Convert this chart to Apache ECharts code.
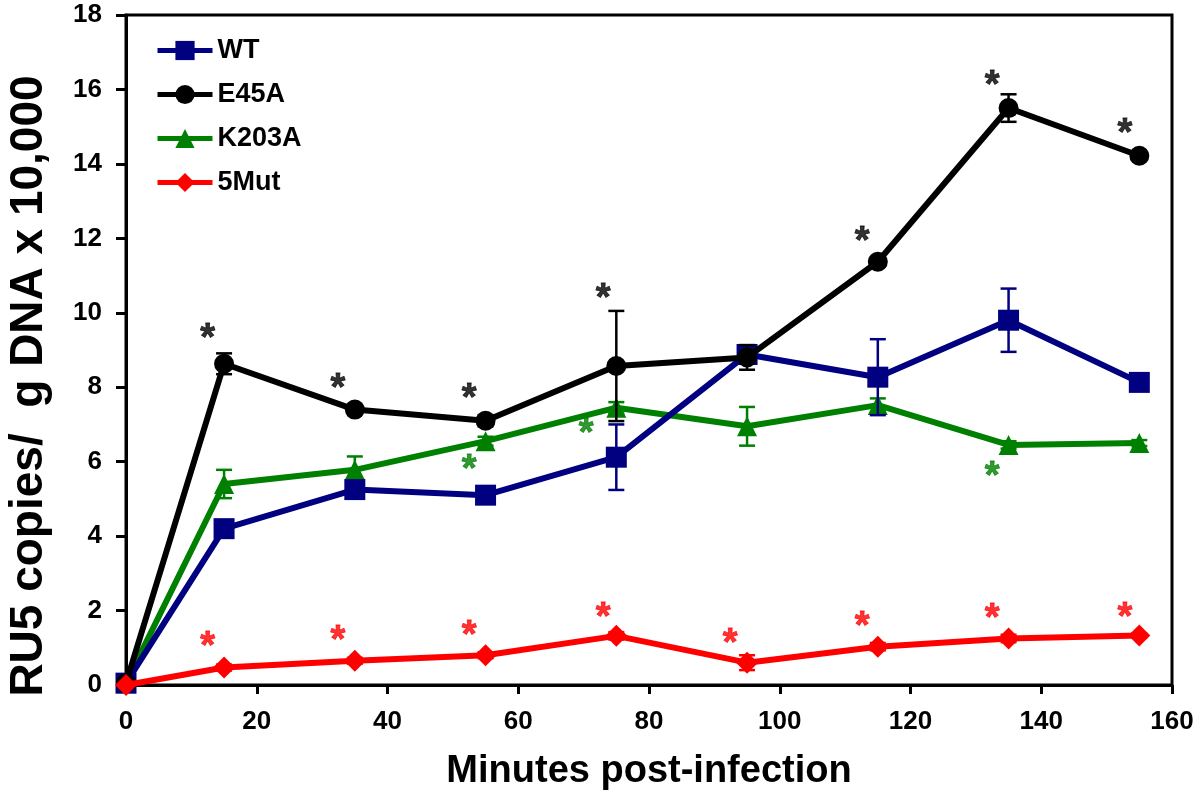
<!DOCTYPE html>
<html>
<head>
<meta charset="utf-8">
<script src="https://cdn.jsdelivr.net/npm/echarts@6/dist/echarts.min.js"></script>
<style>
html,body{margin:0;padding:0;background:#fff;}
#chart{width:1200px;height:797px;}
</style>
</head>
<body>
<div id="chart"></div>
<script>
// ---- data ----
const minutes = [0, 15, 35, 55, 75, 95, 115, 135, 155];
const wt      = [0.05, 4.2, 5.25, 5.1, 6.12, 8.88, 8.27, 9.8, 8.13];
const wtErr   = [0, 0.12, 0.15, 0.1, 0.88, 0.25, 1.02, 0.85, 0.1];
const e45a    = [0.05, 8.63, 7.4, 7.1, 8.57, 8.8, 11.37, 15.5, 14.22];
const e45aErr = [0, 0.28, 0.12, 0.15, 1.48, 0.33, 0.12, 0.37, 0.1];
const k203a   = [0.05, 5.4, 5.78, 6.55, 7.45, 6.95, 7.52, 6.45, 6.5];
const k203aErr= [0, 0.38, 0.36, 0.12, 0.15, 0.52, 0.18, 0.1, 0.08];
const mut5    = [0, 0.47, 0.65, 0.8, 1.32, 0.6, 1.03, 1.25, 1.33];
const mut5Err = [0, 0.08, 0.08, 0.08, 0.1, 0.2, 0.1, 0.1, 0.05];

// significance asterisks [minutes, value]
const starsBlack = [[12.5,9.49],[32.4,8.15],[52.5,7.88],[73,10.57],[112.6,12.09],[132.5,16.3],[152.8,15.0]];
const starsGreen = [[52.5,5.97],[70.4,6.94],[132.5,5.78]];
const starsRed   = [[12.5,1.21],[32.4,1.39],[52.5,1.52],[73,2.01],[92.4,1.30],[112.6,1.75],[132.5,1.97],[152.8,2.01]];

const xTicks = [0,20,40,60,80,100,120,140,160];
const yTicks = [0,2,4,6,8,10,12,14,16,18];

const COLORS = {WT:'#000080', E45A:'#000000', K203A:'#008000', M5:'#ff0000'};
const FONT = 'Liberation Sans, Arial, sans-serif';

function pairs(vals){ return minutes.map((m,i)=>[m, vals[i]]); }
function errData(vals, errs){ return minutes.map((m,i)=>[m, vals[i]-errs[i], vals[i]+errs[i]]).filter((d,i)=>errs[i]>0); }

function errSeries(name, vals, errs, color, z){
  return {
    type:'custom', name: name + ' err', z: z, silent:true,
    data: errData(vals, errs),
    encode:{x:0, y:[1,2]},
    renderItem: function(params, api){
      const x = api.value(0);
      const lo = api.coord([x, api.value(1)]);
      const hi = api.coord([x, api.value(2)]);
      const cw = 8;
      const st = {stroke: color, lineWidth: 2.5};
      return {type:'group', children:[
        {type:'line', shape:{x1:lo[0],y1:lo[1],x2:hi[0],y2:hi[1]}, style:st},
        {type:'line', shape:{x1:lo[0]-cw,y1:lo[1],x2:lo[0]+cw,y2:lo[1]}, style:st},
        {type:'line', shape:{x1:hi[0]-cw,y1:hi[1],x2:hi[0]+cw,y2:hi[1]}, style:st}
      ]};
    }
  };
}

function lineSeries(name, vals, color, symbol, size, z){
  return {
    type:'line', name:name, data:pairs(vals), z:z,
    symbol:symbol, symbolSize:size, showAllSymbol:true,
    lineStyle:{color:color, width:6},
    itemStyle:{color:color, opacity:1},
    emphasis:{disabled:true}, animation:false
  };
}

function starSeries(data, color){
  return {
    type:'scatter', data:data, symbol:'circle', symbolSize:2, z:10, silent:true,
    itemStyle:{color:'rgba(0,0,0,0)'},
    label:{show:true, position:'inside', formatter:'*', color:color,
      fontSize:38, fontWeight:'bold', fontFamily:FONT, offset:[0,8],
      textBorderColor:color, textBorderWidth:0.8},
    emphasis:{disabled:true}
  };
}

const chart = echarts.init(document.getElementById('chart'), null, {renderer:'canvas'});
chart.setOption({
  animation:false,
  backgroundColor:'#fff',
  grid:{left:126, right:28, top:15, bottom:112, outerBoundsMode:'none', containLabel:false,
    show:true, borderColor:'#000', borderWidth:3, backgroundColor:'transparent'},
  legend:{
    orient:'vertical', left:155, top:37, padding:0, itemWidth:55, itemHeight:24, itemGap:17,
    data:['WT','E45A','K203A','5Mut'],
    lineStyle:{width:5},
    textStyle:{fontSize:27, fontWeight:'bold', fontFamily:FONT, color:'#000', lineHeight:27},
    selectedMode:false
  },
  xAxis:{
    type:'value', min:0, max:160, interval:20,
    name:'Minutes post-infection', nameLocation:'middle', nameGap:68,
    nameTextStyle:{fontSize:38, fontWeight:'bold', fontFamily:FONT, color:'#000'},
    axisLine:{show:true, lineStyle:{color:'#000', width:3}},
    axisTick:{show:true, length:9, lineStyle:{color:'#000', width:3}},
    axisLabel:{fontSize:26, fontWeight:'bold', fontFamily:FONT, color:'#000', margin:24,
      formatter:v=> xTicks.includes(v) ? String(v) : ''},
    splitLine:{show:false}
  },
  yAxis:{
    type:'value', min:0, max:18, interval:2,
    name:'RU5 copies/  g DNA x 10,000', nameLocation:'middle', nameGap:74, nameRotate:90,
    nameTextStyle:{fontSize:46, fontWeight:'bold', fontFamily:FONT, color:'#000', padding:[0,72,0,0]},
    axisLine:{show:true, lineStyle:{color:'#000', width:3}},
    axisTick:{show:true, length:10, lineStyle:{color:'#000', width:3}},
    axisLabel:{fontSize:26, fontWeight:'bold', fontFamily:FONT, color:'#000', margin:24,
      formatter:v=> yTicks.includes(v) ? String(v) : ''},
    splitLine:{show:false}
  },
  series:[
    errSeries('K203A', k203a, k203aErr, COLORS.K203A, 2),
    lineSeries('K203A', k203a, COLORS.K203A, 'triangle', 20, 3),
    errSeries('WT', wt, wtErr, COLORS.WT, 4),
    lineSeries('WT', wt, COLORS.WT, 'rect', 21, 5),
    errSeries('E45A', e45a, e45aErr, COLORS.E45A, 6),
    lineSeries('E45A', e45a, COLORS.E45A, 'circle', 20, 7),
    errSeries('5Mut', mut5, mut5Err, COLORS.M5, 8),
    lineSeries('5Mut', mut5, COLORS.M5, 'diamond', 22, 9),
    starSeries(starsBlack, '#000'),
    starSeries(starsGreen, COLORS.K203A),
    starSeries(starsRed, COLORS.M5)
  ]
});
</script>
</body>
</html>
